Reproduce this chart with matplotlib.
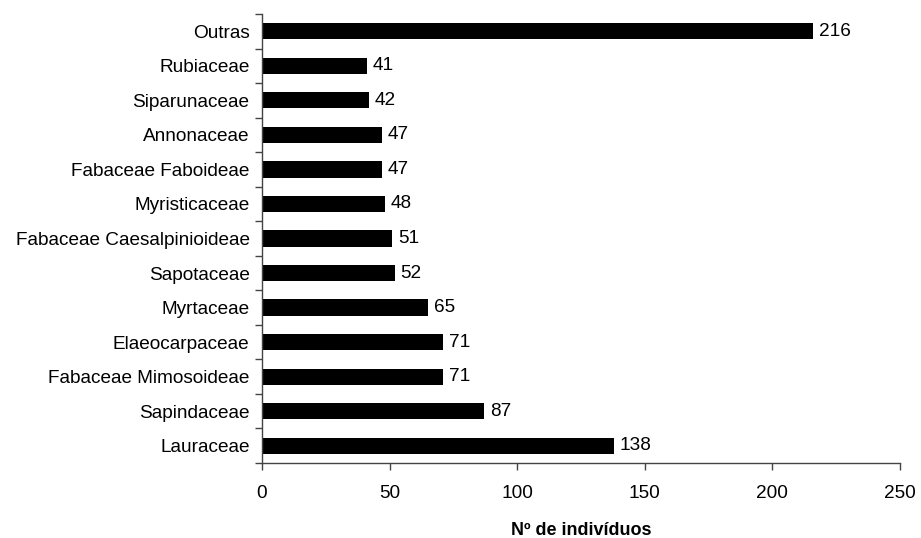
import numpy as np
import matplotlib.pyplot as plt

plt.rcParams['font.family'] = ['Liberation Sans', 'DejaVu Sans']

familias = ['Lauraceae', 'Sapindaceae', 'Fabaceae Mimosoideae', 'Elaeocarpaceae',
            'Myrtaceae', 'Sapotaceae', 'Fabaceae Caesalpinioideae', 'Myristicaceae',
            'Fabaceae Faboideae', 'Annonaceae', 'Siparunaceae', 'Rubiaceae', 'Outras']
individuos = [138, 87, 71, 71, 65, 52, 51, 48, 47, 47, 42, 41, 216]

fig = plt.figure(figsize=(9.21, 5.38), dpi=100)
ax = fig.add_axes([0.2845, 0.1394, 0.6927, 0.8346])

y = np.arange(len(familias))
ax.barh(y, individuos, height=0.47, color='black')
for yi, v in zip(y, individuos):
    ax.text(v + 2.2, yi, str(v), va='center', ha='left', fontsize=13.7)

ax.set_xlim(0, 250)
ax.set_ylim(-0.5, len(familias) - 0.5)
ax.set_xticks(np.arange(0, 251, 50))
ax.set_yticks(y)
ax.set_yticklabels(familias, fontsize=13.7)
ax.tick_params(axis='y', length=0, pad=9)
# marcas entre as categorias, como no eixo de categorias
ax.set_yticks(np.arange(-0.5, len(familias), 1), minor=True)
ax.tick_params(axis='y', which='minor', length=5, color='#444444', width=1)
ax.tick_params(axis='x', length=5, color='#444444', width=1, labelsize=13.7, pad=11)

for s in ['top', 'right']:
    ax.spines[s].set_visible(False)
for s in ['left', 'bottom']:
    ax.spines[s].set_color('#444444')
    ax.spines[s].set_linewidth(1)

ax.set_xlabel('Nº de indivíduos', fontsize=13, fontweight='bold', labelpad=14)

fig.savefig('out.png', dpi=100)
